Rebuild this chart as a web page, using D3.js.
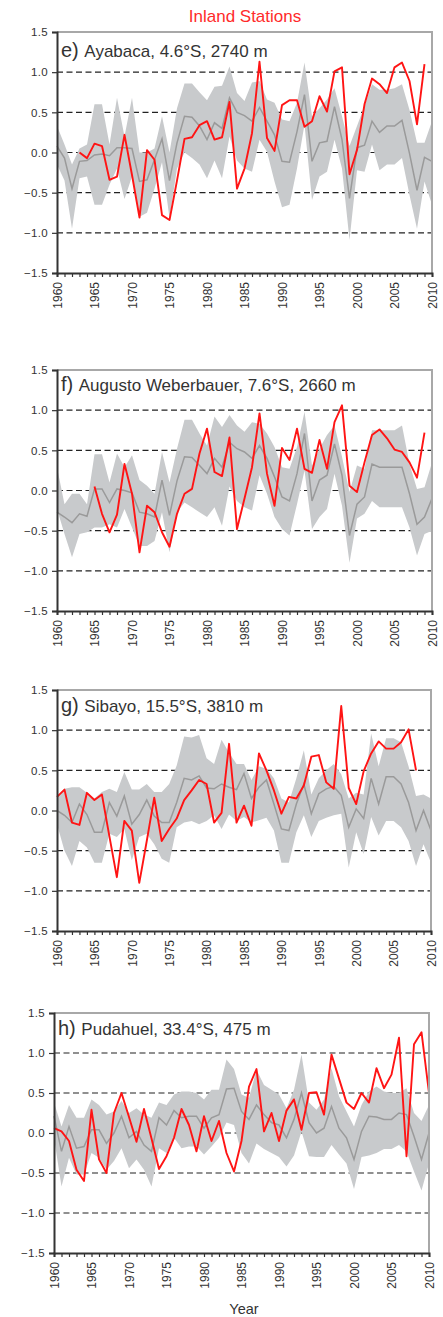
<!DOCTYPE html>
<html><head><meta charset="utf-8">
<script src="https://cdn.jsdelivr.net/npm/d3@7"></script>
<style>
body{margin:0;background:#fff}
svg{display:block}
text{font-family:"Liberation Sans",Arial,Helvetica,sans-serif}
</style>
</head><body>
<svg id="chart" width="443" height="1317"></svg>
<script>
// ---------- data ----------
const years = d3.range(1960, 2011);
const yTickValues = [-1.5, -1.0, -0.5, 0.0, 0.5, 1.0, 1.5];
const gridValues = [-1.0, -0.5, 0.0, 0.5, 1.0];
const xTickYears = [1960, 1965, 1970, 1975, 1980, 1985, 1990, 1995, 2000, 2005, 2010];
const figureTitle = "Inland Stations";
const xAxisTitle = "Year";
const panelLetters = ["e)", "f)", "g)", "h)"];
const panelNames = ["Ayabaca, 4.6°S, 2740 m", "Augusto Weberbauer, 7.6°S, 2660 m", "Sibayo, 15.5°S, 3810 m", "Pudahuel, 33.4°S, 475 m"];

// e) Ayabaca
const stationE = [null,null,null,0.00,-0.07,0.11,0.08,-0.34,-0.30,0.22,
  -0.28,-0.81,0.03,-0.09,-0.78,-0.84,-0.35,0.17,0.19,0.34,
  0.39,0.16,0.19,0.63,-0.45,-0.20,0.24,1.13,0.18,0.02,
  0.59,0.65,0.65,0.32,0.39,0.70,0.51,1.01,1.06,-0.27,
  0.03,0.60,0.92,0.85,0.74,1.06,1.12,0.89,0.35,1.10,null];
const meanE = [0.08,-0.07,-0.45,-0.11,-0.10,-0.03,-0.02,-0.04,0.06,0.06,
  0.05,-0.36,-0.34,-0.09,0.17,-0.35,0.12,0.45,0.44,0.33,
  0.16,0.37,0.30,0.68,0.50,0.46,0.39,0.56,0.39,0.22,
  -0.11,-0.12,0.26,0.72,-0.11,0.12,0.14,0.57,0.16,-0.57,
  0.06,0.09,0.39,0.25,0.33,0.33,0.40,-0.01,-0.47,-0.06,-0.11];
const upperE = [0.33,0.10,-0.15,0.05,0.10,0.60,0.60,0.10,0.68,0.20,
  0.68,0.00,0.00,0.05,0.45,0.00,0.55,0.86,0.86,0.75,
  0.65,0.82,0.83,1.07,0.74,0.64,0.87,0.89,0.66,0.62,
  0.41,0.39,0.62,1.12,0.45,0.55,0.66,0.80,0.45,0.08,
  0.33,0.58,0.85,0.78,0.78,0.80,0.85,0.53,0.12,0.12,0.39];
const lowerE = [-0.15,-0.35,-0.95,-0.32,-0.30,-0.65,-0.65,-0.40,-0.20,-0.58,
  -0.30,-0.80,-0.75,-0.45,-0.12,-0.82,-0.20,0.00,-0.07,-0.15,
  -0.32,-0.10,-0.32,0.20,-0.10,-0.20,-0.24,0.16,0.01,-0.36,
  -0.68,-0.65,-0.20,0.35,-0.59,-0.30,-0.24,0.16,-0.20,-1.09,
  -0.22,-0.24,0.10,-0.22,-0.15,-0.15,-0.07,-0.53,-0.95,-0.36,-0.65];

// f) Augusto Weberbauer
const stationF = [null,null,null,null,null,0.05,-0.29,-0.52,-0.30,0.33,
  -0.04,-0.77,-0.19,-0.27,-0.52,-0.70,-0.29,-0.04,0.02,0.46,
  0.77,0.23,0.18,0.66,-0.48,-0.10,0.29,0.96,0.21,-0.19,
  0.53,0.38,0.77,0.27,0.22,0.63,0.27,0.85,1.06,0.06,
  -0.02,0.35,0.69,0.76,0.65,0.51,0.48,0.35,0.16,0.72,null];
const meanF = [-0.27,-0.33,-0.40,-0.29,-0.32,0.02,0.02,-0.15,0.02,0.00,
  -0.03,-0.27,-0.29,-0.33,0.13,-0.31,0.12,0.42,0.41,0.31,
  0.21,0.40,0.29,0.60,0.52,0.48,0.40,0.56,0.40,0.17,
  -0.08,-0.13,0.21,0.71,-0.13,0.13,0.19,0.58,0.19,-0.56,
  -0.17,-0.08,0.33,0.29,0.29,0.29,0.29,-0.04,-0.42,-0.33,-0.10];
const upperF = [0.29,-0.17,-0.04,-0.04,-0.17,0.45,0.45,0.10,0.46,0.29,
  0.44,0.13,0.06,-0.04,0.48,0.10,0.52,0.88,0.88,0.71,
  0.56,0.92,0.79,0.94,0.81,0.73,0.85,0.83,0.71,0.54,
  0.29,0.27,0.54,0.98,0.31,0.52,0.69,0.81,0.42,-0.02,
  0.31,0.27,0.75,0.75,0.75,0.75,0.81,0.33,0.02,0.04,0.35];
const lowerF = [-0.23,-0.54,-0.83,-0.54,-0.52,-0.46,-0.46,-0.42,-0.46,-0.23,
  -0.46,-0.69,-0.69,-0.63,-0.27,-0.77,-0.27,-0.15,-0.21,-0.27,
  -0.33,-0.21,-0.44,0.05,-0.13,-0.21,-0.25,0.19,-0.04,-0.33,
  -0.48,-0.56,-0.17,0.25,-0.48,-0.33,-0.23,0.21,-0.19,-0.90,
  -0.35,-0.29,-0.13,-0.21,-0.21,-0.21,-0.21,-0.46,-0.81,-0.54,-0.50];

// g) Sibayo
const stationG = [0.17,0.26,-0.15,-0.18,0.22,0.13,0.20,-0.32,-0.83,-0.13,
  -0.25,-0.90,-0.38,0.16,-0.38,-0.23,-0.10,0.13,0.25,0.38,
  0.33,-0.15,-0.03,0.83,-0.15,0.06,-0.19,0.71,0.50,0.25,
  -0.04,0.17,0.15,0.31,0.67,0.69,0.35,0.27,1.30,0.28,
  0.08,0.49,0.71,0.86,0.77,0.77,0.85,1.01,0.50,null,null];
const meanG = [0.00,-0.06,-0.15,0.08,-0.05,-0.27,-0.27,0.10,-0.07,0.18,
  -0.17,-0.05,0.13,-0.07,-0.15,-0.15,0.10,0.40,0.38,0.43,
  0.28,0.27,0.33,0.29,0.26,0.46,0.15,0.29,0.38,0.08,
  -0.23,-0.25,0.08,0.33,-0.04,0.21,0.27,0.30,0.19,-0.21,
  0.02,-0.10,0.40,0.08,0.42,0.42,0.33,0.10,-0.25,0.00,-0.25];
const upperG = [0.17,0.27,0.29,0.29,0.22,0.15,0.23,0.27,0.23,0.48,
  0.26,0.26,0.33,0.23,0.23,0.33,0.56,0.92,0.91,0.94,
  0.65,0.58,0.88,0.72,0.58,0.58,0.38,0.55,0.52,0.40,
  0.15,0.10,0.40,0.75,0.20,0.40,0.50,0.58,0.45,0.15,
  0.22,0.20,0.96,0.55,0.90,0.90,0.85,0.55,0.18,0.20,0.15];
const lowerG = [-0.17,-0.50,-0.69,-0.38,-0.46,-0.65,-0.65,-0.29,-0.33,-0.23,
  -0.62,-0.33,-0.29,-0.42,-0.60,-0.65,-0.21,-0.15,-0.13,-0.17,
  -0.13,-0.06,-0.23,-0.05,-0.13,-0.08,-0.15,-0.12,-0.09,-0.25,
  -0.65,-0.65,-0.27,-0.06,-0.33,-0.13,-0.09,-0.06,-0.04,-0.71,
  -0.27,-0.54,-0.08,-0.31,-0.13,-0.13,-0.21,-0.38,-0.69,-0.42,-0.65];

// h) Pudahuel
const stationH = [0.06,0.02,-0.10,-0.46,-0.60,0.29,-0.33,-0.50,0.25,0.50,
  0.20,-0.11,0.30,-0.07,-0.45,-0.29,-0.06,0.30,0.10,-0.23,
  0.21,-0.10,0.15,-0.25,-0.48,-0.10,0.58,0.80,0.02,0.25,
  -0.10,0.28,0.42,0.04,0.50,0.51,0.23,0.98,0.68,0.38,
  0.30,0.50,0.38,0.81,0.56,0.73,1.19,-0.29,1.11,1.26,0.50];
const meanH = [0.21,-0.23,0.08,-0.19,-0.17,0.04,0.04,-0.13,0.00,0.21,
  -0.06,0.02,-0.15,-0.23,0.19,0.10,0.28,0.19,0.21,0.21,
  0.06,0.19,0.23,0.55,0.56,0.27,0.17,0.35,0.23,0.13,
  0.10,-0.06,0.17,0.50,0.13,0.00,0.06,0.33,0.06,-0.06,
  -0.33,0.02,0.21,0.20,0.17,0.17,0.25,0.23,-0.04,-0.33,0.00];
const upperH = [0.38,0.08,0.35,0.19,0.19,0.42,0.35,0.23,0.27,0.40,
  0.25,0.31,0.23,0.19,0.38,0.35,0.48,0.52,0.52,0.50,
  0.42,0.54,0.54,0.92,0.80,0.48,0.44,0.79,0.60,0.54,
  0.48,0.31,0.54,0.98,0.38,0.29,0.42,0.81,0.46,0.27,
  0.08,0.35,0.52,0.58,0.52,0.50,0.50,0.56,0.25,0.15,0.35];
const lowerH = [-0.06,-0.67,-0.31,-0.52,-0.52,-0.25,-0.31,-0.46,-0.35,-0.19,
  -0.44,-0.33,-0.46,-0.67,-0.19,-0.25,-0.06,-0.19,-0.17,-0.17,
  -0.27,-0.17,-0.06,0.13,0.10,-0.25,-0.38,-0.13,-0.20,-0.25,
  -0.30,-0.42,-0.28,0.02,-0.29,-0.30,-0.30,-0.15,-0.27,-0.38,
  -0.70,-0.30,-0.28,-0.25,-0.20,-0.20,-0.15,-0.23,-0.48,-0.72,-0.38];

// ---------- layout ----------
const frames = [
  {left:57, right:432, top:32,   bottom:273, titleDy:25},
  {left:57, right:432, top:370,  bottom:611, titleDy:21},
  {left:57, right:431, top:690,  bottom:931, titleDy:22},
  {left:54, right:429, top:1013, bottom:1253, titleDy:22}
];
const seriesSets = [
  [stationE, meanE, upperE, lowerE],
  [stationF, meanF, upperF, lowerF],
  [stationG, meanG, upperG, lowerG],
  [stationH, meanH, upperH, lowerH]
];

const svg = d3.select("#chart");
svg.append("rect").attr("width",443).attr("height",1317).attr("fill","#fff");

svg.append("text").attr("x",245).attr("y",22).attr("text-anchor","middle")
  .attr("font-size",17).attr("fill","#ff2a2a").text(figureTitle);

frames.forEach((fr, i) => {
  const [station, mean, upper, lower] = seriesSets[i];
  const x = d3.scaleLinear().domain([1960, 2010]).range([fr.left, fr.right]);
  const y = d3.scaleLinear().domain([-1.5, 1.5]).range([fr.bottom, fr.top]);
  const g = svg.append("g");

  // grid
  g.selectAll("line.grid").data(gridValues).join("line")
    .attr("x1", fr.left).attr("x2", fr.right)
    .attr("y1", d => y(d)).attr("y2", d => y(d))
    .attr("stroke", "#222").attr("stroke-width", 1.2)
    .attr("stroke-dasharray", "6,3.5");

  const rows = years.map((yr, k) => ({year: yr, s: station[k], m: mean[k], hi: upper[k], lo: lower[k]}));

  // spread band
  g.append("path").datum(rows)
    .attr("d", d3.area().x(d => x(d.year)).y0(d => y(d.lo)).y1(d => y(d.hi)))
    .attr("fill", "#c8cacc");

  // mean line
  g.append("path").datum(rows)
    .attr("d", d3.line().x(d => x(d.year)).y(d => y(d.m)))
    .attr("fill", "none").attr("stroke", "#9a9a9a").attr("stroke-width", 1.5);

  // station line
  g.append("path").datum(rows)
    .attr("d", d3.line().defined(d => d.s !== null).x(d => x(d.year)).y(d => y(d.s)))
    .attr("fill", "none").attr("stroke", "#ff1414").attr("stroke-width", 1.9)
    .attr("stroke-linejoin", "round");

  // frame top/right
  g.append("path")
    .attr("d", `M${fr.left},${fr.top}H${fr.right}V${fr.bottom}`)
    .attr("fill", "none").attr("stroke", "#a8a8a8").attr("stroke-width", 2);

  // y axis
  const yAxis = d3.axisLeft(y).tickValues(yTickValues).tickFormat(d3.format(".1f"))
    .tickSize(5).tickPadding(4);
  const ya = g.append("g").attr("transform", `translate(${fr.left},0)`).call(yAxis);
  ya.select(".domain").attr("stroke", "#333").attr("stroke-width", 2);
  ya.selectAll(".tick line").attr("stroke", "#333").attr("stroke-width", 1.2);
  ya.selectAll(".tick text").attr("font-size", 11.5).attr("fill", "#333")
    .attr("letter-spacing", "0.3px")
    .attr("font-family", "'Liberation Sans',Arial,sans-serif");

  // x axis (minor ticks every year)
  const xMinor = d3.axisBottom(x).tickValues(years).tickSize(4).tickFormat("");
  const xm = g.append("g").attr("transform", `translate(0,${fr.bottom})`).call(xMinor);
  xm.select(".domain").attr("stroke", "#333").attr("stroke-width", 2);
  xm.selectAll(".tick line").attr("stroke", "#333").attr("stroke-width", 1.2);

  const xMajor = d3.axisBottom(x).tickValues(xTickYears).tickSize(0).tickFormat(d3.format("d"));
  const xa = g.append("g").attr("transform", `translate(0,${fr.bottom})`).call(xMajor);
  xa.select(".domain").remove();
  xa.selectAll(".tick text")
    .attr("font-size", 12).attr("fill", "#333")
    .attr("font-family", "'Liberation Sans',Arial,sans-serif")
    .attr("text-anchor", "end")
    .attr("transform", "rotate(-90)")
    .attr("x", -9).attr("y", 0).attr("dy", "0.35em");

  // panel title
  const t = g.append("text").attr("x", fr.left + 4).attr("y", fr.top + fr.titleDy).attr("fill", "#333");
  t.append("tspan").attr("font-size", 20).text(panelLetters[i] + " ");
  t.append("tspan").attr("font-size", 17).text(panelNames[i]);
});

svg.append("text").attr("x",244).attr("y",1314).attr("text-anchor","middle")
  .attr("font-size",14.5).attr("fill","#333").text(xAxisTitle);
</script>
</body></html>
